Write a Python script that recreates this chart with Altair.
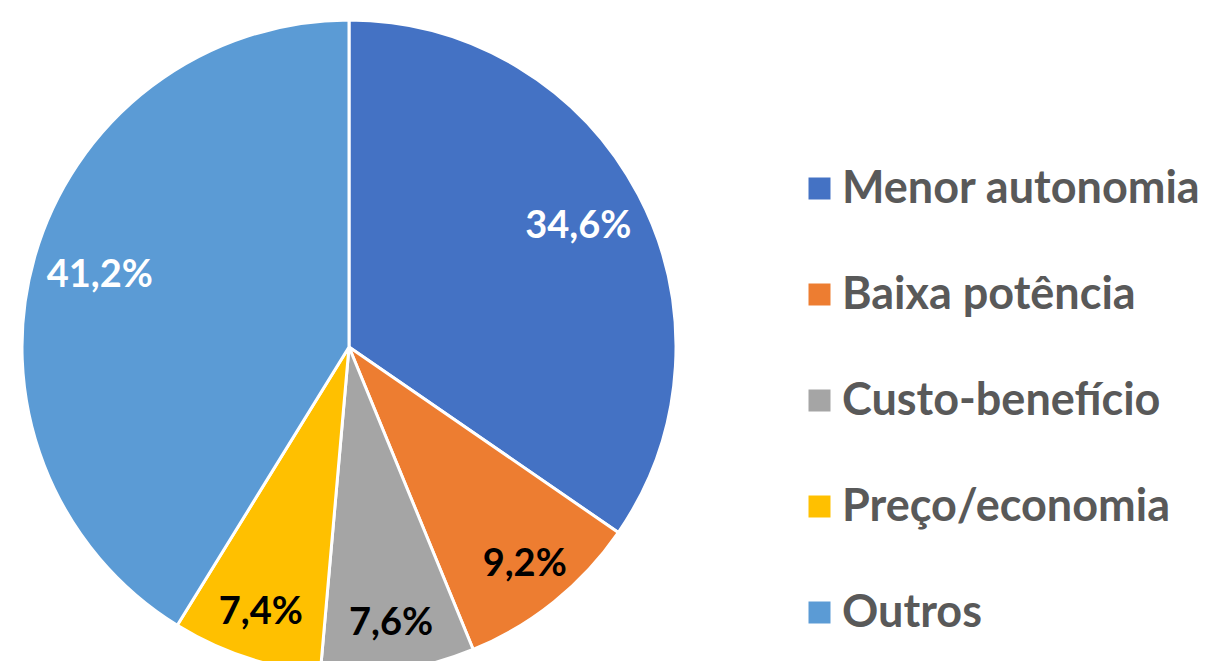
import altair as alt
import pandas as pd
import math

categories = ["Menor autonomia", "Baixa potência", "Custo-benefício", "Preço/economia", "Outros"]
values = [34.6, 9.2, 7.6, 7.4, 41.2]
colors = ["#4472C4", "#ED7D31", "#A5A5A5", "#FFC000", "#5B9BD5"]
label_colors = ["white", "black", "black", "black", "white"]

df = pd.DataFrame({
    "categoria": categories,
    "valor": values,
    "ordem": list(range(len(categories))),
    "cor_rotulo": label_colors,
})

FONT = "Lato"
CX, CY, R = 341, 339, 327
TOTAL = sum(values)

arcs = alt.Chart(df).mark_arc(outerRadius=R, stroke="white", strokeWidth=3).encode(
    theta=alt.Theta("valor:Q", stack=True),
    order=alt.Order("ordem:Q"),
    x=alt.value(CX),
    y=alt.value(CY),
    color=alt.Color(
        "categoria:N",
        sort=categories,
        scale=alt.Scale(domain=categories, range=colors),
        legend=alt.Legend(
            title=None,
            orient="none",
            legendX=789,
            legendY=158,
            symbolType="square",
            symbolSize=484,
            symbolStrokeWidth=0,
            labelFontSize=45,
            labelFont=FONT,
            labelFontWeight="bold",
            labelColor="#595959",
            labelOffset=0,
            rowPadding=60,
            padding=0,
            labelLimit=600,
        ),
    ),
)

labels = alt.Chart(df).transform_window(
    acumulado="sum(valor)",
    sort=[alt.SortField("ordem")],
    frame=[None, 0],
).transform_calculate(
    meio="datum.acumulado - datum.valor / 2",
    rotulo="replace(format(datum.valor, '.1f'), '.', ',') + '%'",
    raio="datum.valor > 20 ? 259 : 280",
).mark_text(font=FONT, fontSize=38, fontWeight="bold").encode(
    theta=alt.Theta("meio:Q", stack=None,
                    scale=alt.Scale(domain=[0, TOTAL], range=[0, 2 * math.pi])),
    x=alt.value(CX),
    y=alt.value(CY),
    radius=alt.Radius("raio:Q", scale=None),
    text="rotulo:N",
    color=alt.Color("cor_rotulo:N", scale=None),
)

chart = alt.layer(arcs, labels).resolve_scale(theta="independent").properties(
    width=1195, height=653, padding=0,
    autosize=alt.AutoSizeParams(type="none"),
).configure_view(stroke=None)

chart.save("out.html", embed_options={"renderer": "svg", "actions": False})
